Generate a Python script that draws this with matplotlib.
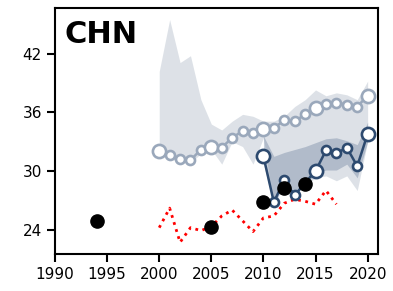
import matplotlib
matplotlib.use("Agg")
import matplotlib.pyplot as plt

# light series (2000-2020) with its band
lightYears = list(range(2000, 2021))
lightValues = [32.0, 31.6, 31.2, 31.1, 32.2, 32.5, 32.4, 33.4, 34.1, 33.9, 34.3,
               34.4, 35.2, 35.1, 35.8, 36.4, 36.9, 37.0, 36.8, 36.6, 37.7]
lightUpper = [40.2, 45.5, 41.1, 41.8, 37.3, 34.8, 34.2, 35.1, 35.8, 35.6, 35.1,
              35.1, 35.6, 36.6, 37.3, 38.3, 37.7, 38.0, 37.8, 37.3, 39.2]
lightLower = [31.8, 31.3, 30.9, 30.8, 31.8, 32.2, 30.7, 33.0, 32.5, 30.7, 33.4,
              26.3, 28.8, 27.5, 28.5, 29.3, 29.5, 29.0, 29.5, 28.0, 33.0]

# dark series (2010-2020) with its band
darkYears = list(range(2010, 2021))
darkValues = [31.5, 26.8, 29.1, 27.5, 28.8, 30.0, 32.1, 31.8, 32.4, 30.5, 33.8]
darkUpper = [33.6, 31.5, 31.9, 32.2, 32.5, 32.9, 33.3, 33.4, 33.1, 32.7, 35.0]
darkLower = [30.8, 26.4, 29.0, 27.9, 28.5, 29.8, 30.1, 30.1, 30.7, 29.3, 33.0]

# red dotted series
redYears = list(range(2000, 2018))
redValues = [24.2, 26.2, 22.7, 24.2, 23.9, 24.3, 25.4, 26.0, 24.9, 23.8, 25.2,
             25.4, 26.7, 27.1, 26.9, 26.6, 28.0, 26.6]

# black survey points
dotYears = [1994, 2005, 2010, 2012, 2014]
dotValues = [24.9, 24.3, 26.8, 28.3, 28.7]

bigYears = [2000, 2005, 2010, 2015, 2020]

lightColor = "#9aa8bb"
darkColor = "#2d4a6f"

fig = plt.figure(figsize=(3.93, 2.91), dpi=100)
ax = fig.add_axes([0.14, 0.127, 0.822, 0.846])

ax.fill_between(lightYears, lightLower, lightUpper, color="#8696ab", alpha=0.28, linewidth=0)
ax.fill_between(darkYears, darkLower, darkUpper, color="#3f5a80", alpha=0.28, linewidth=0)

ax.plot(redYears, redValues, color="red", linestyle=":", linewidth=2, zorder=3)

for years, values, color in [(lightYears, lightValues, lightColor), (darkYears, darkValues, darkColor)]:
    ax.plot(years, values, color=color, linewidth=1.8, zorder=4)
    for y, v in zip(years, values):
        size = 9.5 if y in bigYears else 6.5
        ax.plot(y, v, marker="o", markersize=size, markerfacecolor="white",
                markeredgecolor=color, markeredgewidth=1.9, zorder=5)

ax.plot(dotYears, dotValues, "o", color="black", markersize=9.5, zorder=6)

ax.text(0.03, 0.95, "CHN", transform=ax.transAxes, fontsize=22, fontweight="bold",
        va="top", ha="left")

ax.set_xlim(1990, 2021)
ax.set_ylim(21.5, 46.7)
ax.set_xticks(range(1990, 2021, 5))
ax.set_yticks([24, 30, 36, 42])
ax.tick_params(labelsize=11, length=6, width=1.5)
for s in ax.spines.values():
    s.set_linewidth(1.5)

fig.savefig("out.png", dpi=100)
